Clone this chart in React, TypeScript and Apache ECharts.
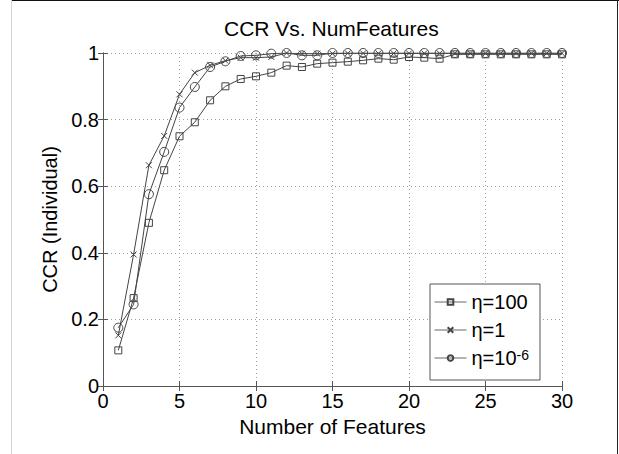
import React, { useEffect, useRef } from "react";
import * as echarts from "echarts";

const numFeatures = [1, 2, 3, 4, 5, 6, 7, 8, 9, 10, 11, 12, 13, 14, 15, 16, 17, 18, 19, 20, 21, 22, 23, 24, 25, 26, 27, 28, 29, 30];
const eta100 = [0.107, 0.264, 0.49, 0.648, 0.75, 0.792, 0.858, 0.9, 0.922, 0.93, 0.941, 0.962, 0.958, 0.968, 0.971, 0.974, 0.978, 0.983, 0.98, 0.988, 0.986, 0.983, 0.996, 0.996, 0.996, 0.996, 0.996, 0.996, 0.996, 0.996];
const eta1 = [0.152, 0.395, 0.663, 0.751, 0.876, 0.941, 0.963, 0.977, 0.986, 0.986, 0.988, 1.0, 0.998, 0.998, 0.998, 0.999, 0.999, 0.999, 0.999, 0.999, 0.999, 0.999, 0.999, 0.999, 0.999, 0.999, 0.999, 0.999, 0.999, 0.999];
const eta1e6 = [0.175, 0.245, 0.576, 0.703, 0.836, 0.898, 0.958, 0.975, 0.991, 0.993, 0.998, 1.0, 0.993, 0.993, 1.0, 1.0, 1.0, 1.0, 1.0, 1.0, 1.0, 1.0, 1.0, 1.0, 1.0, 1.0, 1.0, 1.0, 1.0, 1.0];
const seriesNames = ["η=100", "η=1", "η=1e-6"];
const xTicks = { min: 0, max: 30, interval: 5 };
const yTicks = { min: 0, max: 1, interval: 0.2 };

const FONT = "'Liberation Sans', Arial, sans-serif";
const LINE = "#444";
const AXIS = "#555";

export default function App() {
  const ref = useRef<HTMLDivElement>(null);
  useEffect(() => {
    if (!ref.current) return;
    const chart = echarts.init(ref.current, undefined, { renderer: "svg" });
    const zip = (ys: number[]) => numFeatures.map((x, i) => [x, ys[i]]);
    const common = {
      type: "line",
      xAxisIndex: 0,
      yAxisIndex: 0,
      lineStyle: { color: LINE, width: 1 },
      itemStyle: { color: "transparent", borderColor: LINE, borderWidth: 1 },
      emphasis: { disabled: true },
    };
    const grid = { color: "#a0a0a0", type: [1, 3], width: 1 };
    chart.setOption({
      animation: false,
      backgroundColor: "#fff",
      textStyle: { fontFamily: FONT, color: "#000" },
      title: {
        text: "CCR Vs. NumFeatures",
        left: 219,
        top: 13,
        padding: 5,
        textStyle: { fontFamily: FONT, fontSize: 21, fontWeight: "normal", color: "#000" },
      },
      grid: { left: 103, right: 57, top: 53, bottom: 68, containLabel: false },
      xAxis: [
        {
          type: "value",
          ...xTicks,
          name: "Number of Features",
          nameLocation: "middle",
          nameGap: 22,
          nameTextStyle: { fontFamily: FONT, fontSize: 21, color: "#000" },
          axisLine: { show: true, lineStyle: { color: AXIS, width: 1 } },
          axisTick: { show: true, inside: true, length: 5, lineStyle: { color: AXIS } },
          axisLabel: { fontFamily: FONT, fontSize: 20, color: "#000", margin: 5 },
          splitLine: { show: true, lineStyle: grid },
        },
        {
          type: "value",
          ...xTicks,
          position: "top",
          axisLine: { show: true, lineStyle: { color: AXIS, width: 1 } },
          axisTick: { show: true, inside: true, length: 5, lineStyle: { color: AXIS } },
          axisLabel: { show: false },
          splitLine: { show: false },
        },
      ],
      yAxis: [
        {
          type: "value",
          ...yTicks,
          name: "CCR (Individual)",
          nameLocation: "middle",
          nameGap: 37,
          nameTextStyle: { fontFamily: FONT, fontSize: 20, color: "#000" },
          axisLine: { show: true, lineStyle: { color: AXIS, width: 1 } },
          axisTick: { show: true, inside: true, length: 5, lineStyle: { color: AXIS } },
          axisLabel: { fontFamily: FONT, fontSize: 20, color: "#000", margin: 4 },
          splitLine: { show: true, lineStyle: grid },
        },
        {
          type: "value",
          ...yTicks,
          position: "right",
          axisLine: { show: true, lineStyle: { color: AXIS, width: 1 } },
          axisTick: { show: true, inside: true, length: 5, lineStyle: { color: AXIS } },
          axisLabel: { show: false },
          splitLine: { show: false },
        },
      ],
      legend: {
        orient: "vertical",
        left: 430,
        top: 284,
        padding: [8, 11, 8, 4],
        itemWidth: 32,
        itemHeight: 7,
        itemGap: 8,
        backgroundColor: "#fff",
        borderColor: AXIS,
        borderWidth: 1,
        borderRadius: 0,
        data: seriesNames,
        lineStyle: { color: "#666", width: 1 },
        formatter: (name: string) =>
          name === "η=1e-6" ? "{n|η=10}{s|-6}" : "{n|" + name + "}",
        textStyle: {
          fontFamily: FONT,
          color: "#000",
          rich: {
            n: { fontFamily: FONT, fontSize: 20, lineHeight: 20, color: "#000" },
            s: { fontFamily: FONT, fontSize: 14, lineHeight: 14, color: "#000", verticalAlign: "top", padding: [0, 0, 10, 0] },
          },
        },
      },
      graphic: [
        { type: "line", shape: { x1: 11.5, y1: 0.5, x2: 619, y2: 0.5 }, style: { stroke: "#111", lineWidth: 1 }, silent: true },
        { type: "line", shape: { x1: 617.5, y1: 0, x2: 617.5, y2: 454 }, style: { stroke: "#222", lineWidth: 1 }, silent: true },
        { type: "line", shape: { x1: 11.5, y1: 0, x2: 11.5, y2: 454 }, style: { stroke: "#d4d4d4", lineWidth: 1 }, silent: true },
      ],
      series: [
        { ...common, name: seriesNames[0], data: zip(eta100), symbol: "rect", symbolSize: 7 },
        { ...common, name: seriesNames[1], data: zip(eta1), symbol: "path://M0,0L10,10M10,0L0,10", symbolSize: 6 },
        { ...common, name: seriesNames[2], data: zip(eta1e6), symbol: "circle", symbolSize: 9 },
      ],
    });
    return () => chart.dispose();
  }, []);
  return (
    <div
      ref={ref}
      style={{ position: "absolute", left: 0, top: 0, width: 619, height: 454 }}
    />
  );
}
